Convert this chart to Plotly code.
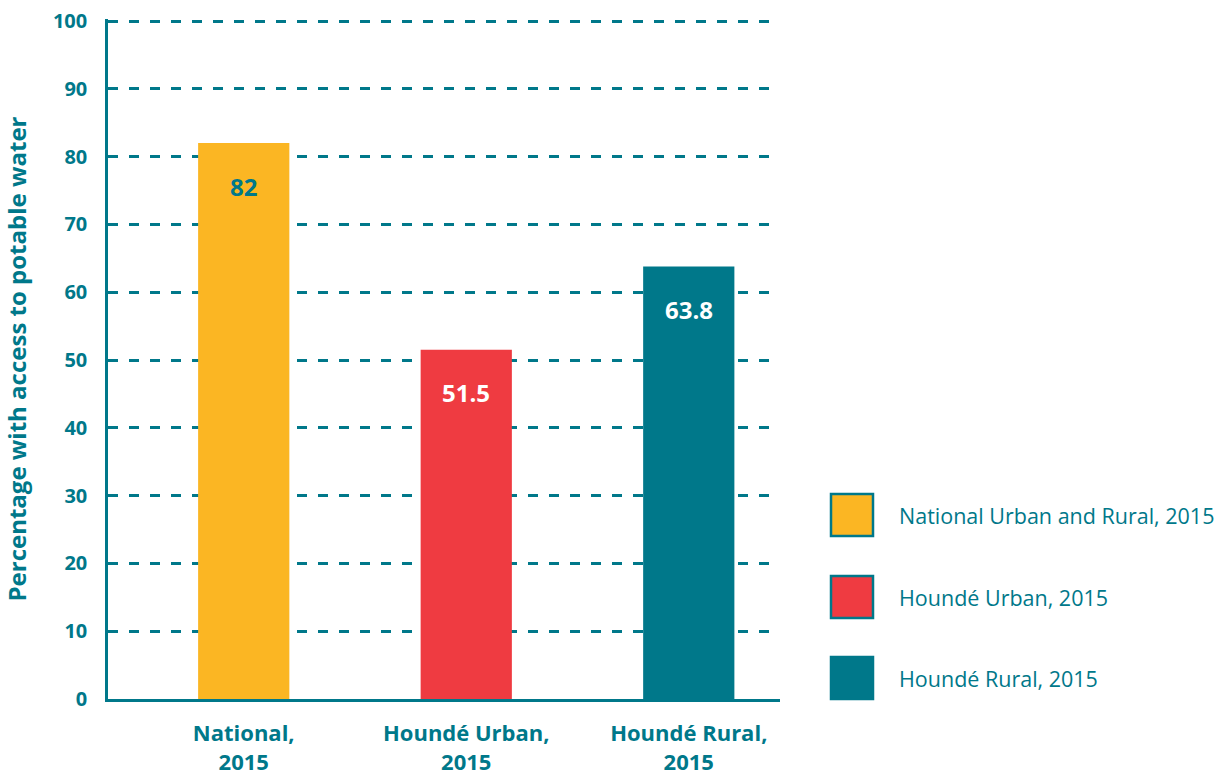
import plotly.graph_objects as go

categories = ["National,<br>2015", "Houndé Urban,<br>2015", "Houndé Rural,<br>2015"]
legend_labels = ["National Urban and Rural, 2015", "Houndé Urban, 2015", "Houndé Rural, 2015"]
values = [82, 51.5, 63.8]
value_labels = ["82", "51.5", "63.8"]
y_ticks = [0, 10, 20, 30, 40, 50, 60, 70, 80, 90, 100]

TEAL = "#00788A"
colors = ["#FBB623", "#EF3B41", TEAL]
label_colors = [TEAL, "#FFFFFF", "#FFFFFF"]
FONT = "Open Sans"

Y0, Y1 = 699, 19   # pixel rows of the plot area
X0, X1 = 108, 780

fig = go.Figure()
fig.add_trace(go.Bar(
    x=list(range(len(categories))), y=values,
    marker=dict(color=colors, line=dict(width=0)),
    width=0.41, showlegend=False, hoverinfo="skip",
))

for i, (v, t) in enumerate(zip(values, value_labels)):
    fig.add_annotation(x=i, y=v, text=t, showarrow=False, xref="x", yref="y",
                       yanchor="middle", yshift=-43,
                       font=dict(family=FONT, size=24, color=label_colors[i], weight="bold"))

def xp(px):
    return (px - X0) / (X1 - X0)

def yp(py):
    return (Y0 - py) / (Y0 - Y1)

leg_y = [515, 597, 678]
for i, lab in enumerate(legend_labels):
    fig.add_shape(type="rect", xref="paper", yref="paper",
                  x0=xp(831), x1=xp(873), y0=yp(leg_y[i] + 21), y1=yp(leg_y[i] - 21),
                  fillcolor=colors[i], line=dict(color=TEAL, width=2.5))
    fig.add_annotation(xref="paper", yref="paper", x=xp(897), y=yp(leg_y[i]),
                       text=lab, showarrow=False, xanchor="left", yanchor="middle",
                       font=dict(family=FONT, size=21.5, color=TEAL))

top = 100 * (Y0 - Y1) / (699 - 21)

fig.update_layout(
    width=1220, height=776,
    margin=dict(l=X0, r=1220 - X1, t=Y1, b=776 - Y0, autoexpand=False),
    plot_bgcolor="white", paper_bgcolor="white",
    xaxis=dict(
        range=[-0.61, 2.41], automargin=False,
        tickmode="array", tickvals=list(range(len(categories))), ticktext=categories,
        tickfont=dict(family=FONT, size=22, color=TEAL, weight="bold"),
        showgrid=False, showline=True, linecolor=TEAL, linewidth=2.5,
        ticks="", ticklabelstandoff=13, zeroline=False, fixedrange=True,
    ),
    yaxis=dict(
        range=[0, top], automargin=False,
        tickmode="array", tickvals=y_ticks,
        tickfont=dict(family=FONT, size=20, color=TEAL, weight="bold"),
        showgrid=True, gridcolor=TEAL, gridwidth=2.5, griddash="10px,11px",
        showline=True, linecolor=TEAL, linewidth=2.5,
        ticks="", ticklabelstandoff=14, zeroline=False,
        title=dict(text="Percentage with access to potable water", standoff=26,
                   font=dict(family=FONT, size=24, color=TEAL, weight="bold")),
    ),
)

fig.write_html("out.html")
